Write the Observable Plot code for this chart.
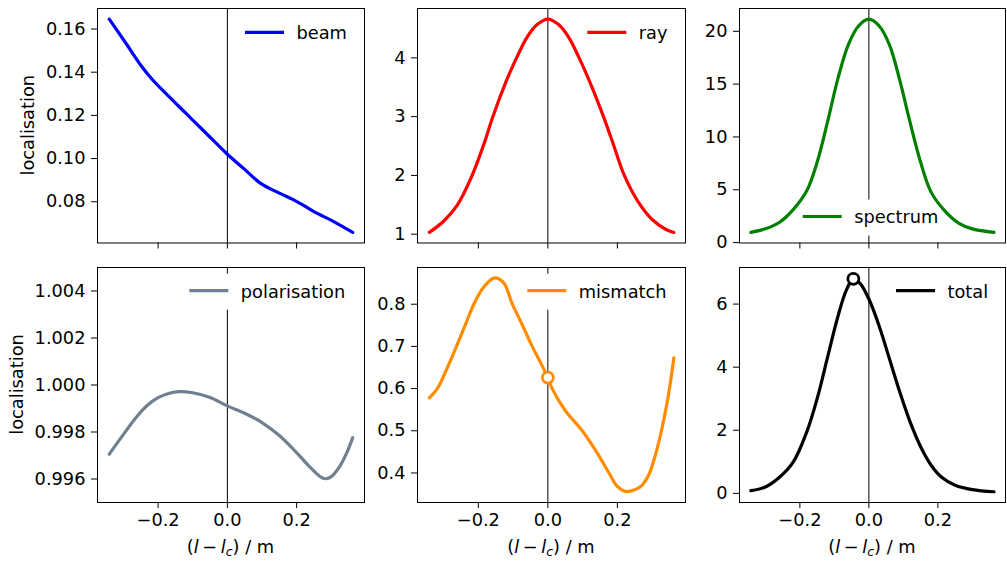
<!DOCTYPE html>
<html><head><meta charset="utf-8">
<script src="https://cdn.jsdelivr.net/npm/d3@7"></script>
<script src="https://cdn.jsdelivr.net/npm/@observablehq/plot@0.6"></script>
<style>
body{margin:0;background:#fff}
#fig{position:relative;width:1007px;height:563px;font-family:"DejaVu Sans",sans-serif;overflow:hidden}
#fig svg{position:absolute}
</style>
</head><body><div id="fig"></div>
<script>
// ---- data ----
const beamX = [-0.341, -0.29, -0.25, -0.22, -0.18, -0.12, -0.06, 0, 0.05, 0.096, 0.15, 0.19, 0.22, 0.25, 0.307, 0.362];
const beamY = [0.1646, 0.1527, 0.1432, 0.1372, 0.1305, 0.1210, 0.1115, 0.102, 0.0950, 0.0885, 0.0840, 0.0810, 0.0783, 0.0754, 0.0708, 0.0658];

const rayX = [-0.341, -0.30, -0.26, -0.22, -0.18, -0.16, -0.12, -0.09, -0.06, -0.03, 0, 0.03, 0.06, 0.09, 0.12, 0.16, 0.19, 0.22, 0.26, 0.30, 0.34, 0.3627];
const rayY = [1.03, 1.22, 1.5, 1.97, 2.6, 2.97, 3.6, 4.0, 4.35, 4.57, 4.66, 4.57, 4.35, 4.0, 3.6, 3.0, 2.5, 2.0, 1.55, 1.25, 1.08, 1.03];

const specX = [-0.342, -0.30, -0.26, -0.22, -0.18, -0.15, -0.12, -0.09, -0.06, -0.03, 0, 0.03, 0.06, 0.09, 0.12, 0.15, 0.18, 0.22, 0.26, 0.30, 0.3627];
const specY = [0.97, 1.3, 1.9, 3.1, 4.9, 7.6, 11.4, 15.5, 18.7, 20.5, 21.15, 20.5, 18.7, 15.3, 11.3, 7.6, 4.8, 3.0, 1.85, 1.3, 0.97];

const polX = [-0.341, -0.30, -0.26, -0.23, -0.20, -0.17, -0.139, -0.10, -0.05, 0, 0.05, 0.10, 0.15, 0.20, 0.24, 0.27, 0.285, 0.30, 0.325, 0.345, 0.362];
const polY = [0.99706, 0.99790, 0.99868, 0.99915, 0.99946, 0.99964, 0.99972, 0.99967, 0.99947, 0.99911, 0.99880, 0.99840, 0.99785, 0.99712, 0.99648, 0.99608, 0.99601, 0.99610, 0.99655, 0.99712, 0.99776];

const misX = [-0.341, -0.318, -0.29, -0.263, -0.237, -0.213, -0.185, -0.155, -0.128, -0.102, -0.073, -0.045, -0.02, 0, 0.0125, 0.05, 0.099, 0.14, 0.176, 0.2, 0.2235, 0.25, 0.27, 0.29, 0.305, 0.324, 0.345, 0.3626];
const misY = [0.578, 0.6, 0.648, 0.7, 0.752, 0.8, 0.84, 0.862, 0.852, 0.8, 0.75, 0.7, 0.66, 0.626, 0.6, 0.548, 0.5, 0.45, 0.4, 0.368, 0.356, 0.36, 0.37, 0.395, 0.43, 0.49, 0.575, 0.673];

const totX = [-0.342, -0.30, -0.26, -0.22, -0.18, -0.15, -0.12, -0.09, -0.065, -0.045, -0.025, 0, 0.03, 0.06, 0.09, 0.12, 0.15, 0.18, 0.21, 0.25, 0.30, 0.3627];
const totY = [0.085, 0.2, 0.5, 0.98, 1.95, 3.0, 4.3, 5.6, 6.45, 6.8, 6.65, 6.16, 5.3, 4.25, 3.2, 2.25, 1.48, 0.9, 0.52, 0.26, 0.12, 0.05];

const misMarker = [{x: 0, y: 0.626}];
const totMarker = [{x: -0.045, y: 6.8}];

const xTicks = [-0.2, 0, 0.2];
const yTicksBeam = [0.08, 0.10, 0.12, 0.14, 0.16];
const yTicksRay = [1, 2, 3, 4];
const yTicksSpec = [0, 5, 10, 15, 20];
const yTicksPol = [0.996, 0.998, 1.000, 1.002, 1.004];
const yTicksMis = [0.4, 0.5, 0.6, 0.7, 0.8];
const yTicksTot = [0, 2, 4, 6];

// ---- layout ----
const FONT = "DejaVu Sans";
const FS = 17.8;
const COLS = [
  {left: 0, width: 375, ml: 97, mr: 11},
  {left: 372, width: 323, ml: 45, mr: 10},
  {left: 695, width: 312, ml: 44, mr: 2}
];
const ROWS = [
  {top: 0, height: 255, mt: 8, mb: 12.5},
  {top: 255, height: 308, mt: 12, mb: 61}
];
const xDomain = [-0.375, 0.396];
const fig = document.getElementById("fig");

function panel(cfg) {
  const C = COLS[cfg.col], R = ROWS[cfg.row];
  const data = cfg.xs.map((x, i) => ({x, y: cfg.ys[i]}));
  const bottom = cfg.row === 1;
  const marks = [
    Plot.ruleX([0], {stroke: "black", strokeWidth: 1}),
    Plot.line(data, {x: "x", y: "y", stroke: cfg.color, strokeWidth: 3.2, curve: "catmull-rom"}),
  ];
  if (cfg.marker) marks.push(Plot.dot(cfg.marker, {x: "x", y: "y", r: 5.5, stroke: cfg.color, strokeWidth: 2.8, fill: "white"}));
  marks.push(Plot.axisY({ticks: cfg.yTicks, tickFormat: d3.format(cfg.yFmt), tickSize: 6, tickPadding: 6, label: null, stroke: "black", fill: "black"}));
  if (bottom) {
    marks.push(Plot.axisX({ticks: xTicks, tickFormat: d3.format(".1f"), tickSize: 6, tickPadding: 5, label: null, stroke: "black", fill: "black"}));
  } else if (Plot.axisTickX) {
    marks.push(Plot.axisTickX({ticks: xTicks, tickSize: 6, stroke: "black"}));
  } else {
    marks.push(Plot.axisX({ticks: xTicks, tickFormat: () => "", tickSize: 6, label: null}));
  }
  marks.push(Plot.frame({stroke: "black", strokeWidth: 1}));
  const svgNode = Plot.plot({
    width: C.width, height: R.height,
    marginLeft: C.ml, marginRight: C.mr, marginTop: R.mt, marginBottom: R.mb,
    x: {domain: xDomain, label: null},
    y: {domain: cfg.yDomain, label: null},
    style: {fontFamily: FONT, fontSize: FS + "px", background: "transparent", color: "black", overflow: "visible"},
    marks
  });
  svgNode.style.left = C.left + "px";
  svgNode.style.top = R.top + "px";
  fig.appendChild(svgNode);
  const svg = d3.select(svgNode);
  const fl = C.ml, ft = R.mt, fr = C.width - C.mr, fb = R.height - R.mb;

  // legend (box sits above the zero rule but under the curve)
  const lx = fl + cfg.legend[0], ly = ft + cfg.legend[1];
  const lineG = svgNode.querySelector('[aria-label="line"]');
  const rectNode = document.createElementNS("http://www.w3.org/2000/svg", "rect");
  svgNode.insertBefore(rectNode, lineG);
  const rect = d3.select(rectNode).attr("fill", "white");
  const g = svg.append("g");
  g.append("line").attr("x1", lx).attr("x2", lx + 39).attr("y1", ly).attr("y2", ly)
    .attr("stroke", cfg.color).attr("stroke-width", 3.2);
  const txt = g.append("text").attr("x", lx + 51.5).attr("y", ly + 6.8).attr("text-anchor", "start")
    .attr("font-family", FONT).attr("font-size", FS).attr("fill", "black").text(cfg.label);
  const tw = txt.node().getComputedTextLength();
  rect.attr("x", lx - 6).attr("width", 51.5 + tw + 12).attr("y", ly - 17).attr("height", 36);

  // y label
  if (cfg.ylabel) {
    svg.append("text").attr("transform", `translate(${cfg.ylabelX},${(ft + fb) / 2}) rotate(-90)`)
      .attr("text-anchor", "middle").attr("font-family", FONT).attr("font-size", FS).attr("fill", "black")
      .text("localisation");
  }
  // x label
  if (bottom) {
    const t = svg.append("text").attr("x", (fl + fr) / 2).attr("y", fb + 50.5)
      .attr("text-anchor", "middle").attr("font-family", FONT).attr("font-size", FS).attr("fill", "black");
    t.append("tspan").text("(");
    t.append("tspan").attr("font-style", "italic").text("l");
    t.append("tspan").text("\u2009\u2212\u2009");
    t.append("tspan").attr("font-style", "italic").text("l");
    t.append("tspan").attr("font-style", "italic").attr("font-size", 12.5).attr("dy", 3.5).text("c");
    t.append("tspan").attr("dy", -3.5).text(") / m");
  }
}

panel({col: 0, row: 0, xs: beamX, ys: beamY, color: "#0000ff", yDomain: [0.0609, 0.1695], yTicks: yTicksBeam, yFmt: ".2f", label: "beam", legend: [148, 24.3], ylabel: true, ylabelX: 34});
panel({col: 1, row: 0, xs: rayX, ys: rayY, color: "#ff0000", yDomain: [0.85, 4.84], yTicks: yTicksRay, yFmt: "d", label: "ray", legend: [170.3, 24.3]});
panel({col: 2, row: 0, xs: specX, ys: specY, color: "#008000", yDomain: [-0.04, 22.16], yTicks: yTicksSpec, yFmt: "d", label: "spectrum", legend: [63.7, 208.5]});
panel({col: 0, row: 1, xs: polX, ys: polY, color: "#708090", yDomain: [0.995, 1.005], yTicks: yTicksPol, yFmt: ".3f", label: "polarisation", legend: [92.3, 23.7], ylabel: true, ylabelX: 22.5});
panel({col: 1, row: 1, xs: misX, ys: misY, color: "#ff8c00", yDomain: [0.330, 0.887], yTicks: yTicksMis, yFmt: ".1f", label: "mismatch", legend: [110.3, 23.7], marker: misMarker});
panel({col: 2, row: 1, xs: totX, ys: totY, color: "#000000", yDomain: [-0.29, 7.16], yTicks: yTicksTot, yFmt: "d", label: "total", legend: [157, 23.7], marker: totMarker});
</script>
</body></html>
